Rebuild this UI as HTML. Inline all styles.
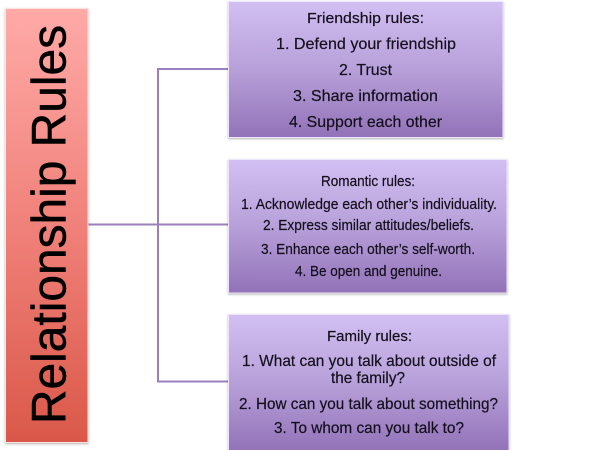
<!DOCTYPE html>
<html>
<head>
<meta charset="utf-8">
<style>
html,body{margin:0;padding:0;background:#fff;width:600px;height:450px;overflow:hidden}
svg{display:block}
text{font-family:"Liberation Sans",sans-serif;fill:#14101c;stroke:#14101c;stroke-width:0.2;text-anchor:start}
</style>
</head>
<body>
<svg width="600" height="450" viewBox="0 0 600 450" xmlns="http://www.w3.org/2000/svg">
<defs>
<linearGradient id="r" x1="0" y1="0" x2="0" y2="1"><stop offset="0" stop-color="#ffaaa7"/><stop offset="0.5" stop-color="#f0817a"/><stop offset="1" stop-color="#da5849"/></linearGradient>
<linearGradient id="p" x1="0" y1="0" x2="0" y2="1"><stop offset="0" stop-color="#d2bff2"/><stop offset="0.5" stop-color="#b7a0d9"/><stop offset="1" stop-color="#9272b8"/></linearGradient>
<filter id="s" x="-10%" y="-10%" width="120%" height="120%"><feDropShadow dx="0" dy="1" stdDeviation="1" flood-color="#000" flood-opacity="0.3"/></filter>
<filter id="b" x="-5%" y="-5%" width="110%" height="110%"><feGaussianBlur stdDeviation="0.3"/></filter>
</defs>

<g fill="none" stroke="#9a80bc" stroke-width="2">
<path d="M88 224.5H228"/>
<path d="M228 69H158V381.5H228"/>
</g>

<rect x="5.5" y="8.5" width="82.5" height="434" fill="url(#r)" stroke="#ffe3e1" stroke-width="1" filter="url(#s)"/>
<rect x="228.5" y="1.5" width="274.5" height="136" fill="url(#p)" stroke="#eee6fa" stroke-width="1" filter="url(#s)"/>
<rect x="228.5" y="159.5" width="278.5" height="133.5" fill="url(#p)" stroke="#eee6fa" stroke-width="1" filter="url(#s)"/>
<rect x="228.5" y="314.5" width="280.5" height="137" fill="url(#p)" stroke="#eee6fa" stroke-width="1" filter="url(#s)"/>

<g filter="url(#b)">
<text transform="translate(65.5 424) rotate(-90)" font-size="48" textLength="399" lengthAdjust="spacingAndGlyphs" style="fill:#000;stroke:#000;stroke-width:0.5">Relationship Rules</text>

<g font-size="16">
<text x="307" y="23" textLength="117" lengthAdjust="spacingAndGlyphs" font-size="15">Friendship rules:</text>
<text x="276" y="49" textLength="180" lengthAdjust="spacingAndGlyphs">1. Defend your friendship</text>
<text x="339" y="75" textLength="53" lengthAdjust="spacingAndGlyphs">2. Trust</text>
<text x="293" y="101" textLength="145" lengthAdjust="spacingAndGlyphs">3. Share information</text>
<text x="289" y="127" textLength="153" lengthAdjust="spacingAndGlyphs">4. Support each other</text>
</g>

<g font-size="14.5">
<text x="321" y="186" textLength="94" lengthAdjust="spacingAndGlyphs">Romantic rules:</text>
<text x="241" y="209" textLength="256" lengthAdjust="spacingAndGlyphs">1. Acknowledge each other’s individuality.</text>
<text x="263" y="230" textLength="211" lengthAdjust="spacingAndGlyphs">2. Express similar attitudes/beliefs.</text>
<text x="261" y="254" textLength="214" lengthAdjust="spacingAndGlyphs">3. Enhance each other’s self-worth.</text>
<text x="295" y="276" textLength="147" lengthAdjust="spacingAndGlyphs">4. Be open and genuine.</text>
</g>

<g font-size="16">
<text x="327" y="341" textLength="85" lengthAdjust="spacingAndGlyphs" font-size="15">Family rules:</text>
<text x="242" y="366" textLength="254" lengthAdjust="spacingAndGlyphs">1. What can you talk about outside of</text>
<text x="331" y="383" textLength="74" lengthAdjust="spacingAndGlyphs">the family?</text>
<text x="239" y="409" textLength="259" lengthAdjust="spacingAndGlyphs">2. How can you talk about something?</text>
<text x="274" y="433" textLength="190" lengthAdjust="spacingAndGlyphs">3. To whom can you talk to?</text>
</g>
</g>
</svg>
</body>
</html>
